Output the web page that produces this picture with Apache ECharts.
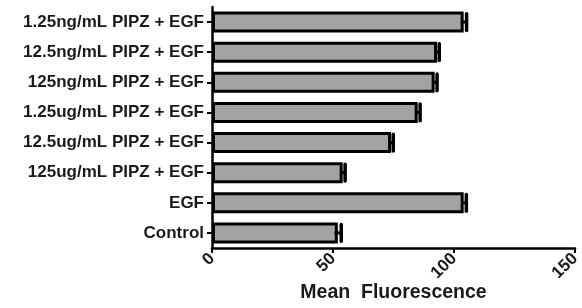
<!DOCTYPE html>
<html>
<head>
<meta charset="utf-8">
<script src="https://cdn.jsdelivr.net/npm/echarts@6/dist/echarts.min.js"></script>
<style>
  html, body { margin: 0; padding: 0; background: #fff; }
  #chart { width: 582px; height: 308px; }
</style>
</head>
<body>
<div id="chart"></div>
<script>
// data
var categories = [
  "1.25ng/mL PIPZ + EGF",
  "12.5ng/mL PIPZ + EGF",
  "125ng/mL PIPZ + EGF",
  "1.25ug/mL PIPZ + EGF",
  "12.5ug/mL PIPZ + EGF",
  "125ug/mL PIPZ + EGF",
  "EGF",
  "Control"
];
var meanValues = [104, 93, 92, 85, 74, 54, 104, 52];
var errValues = [1.2, 0.9, 1.0, 1.0, 0.9, 1.0, 1.1, 1.4];
var xTicks = [0, 50, 100, 150];

var chart = echarts.init(document.getElementById("chart"));

var errData = meanValues.map(function (v, i) {
  return [i, v - errValues[i], v + errValues[i]];
});

var labelFont = {
  fontFamily: "Liberation Sans, Arial, sans-serif",
  fontWeight: "bold",
  fontSize: 17,
  color: "#1a1a1a"
};

var option = {
  animation: false,
  grid: { left: 212, right: 7, top: 7, bottom: 60, outerBoundsMode: "none", containLabel: false },
  xAxis: {
    type: "value",
    min: xTicks[0],
    max: xTicks[xTicks.length - 1],
    interval: 50,
    name: "Mean  Fluorescence",
    nameLocation: "middle",
    nameGap: 35,
    nameMoveOverlap: false,
    nameTextStyle: {
      fontFamily: "Liberation Sans, Arial, sans-serif",
      fontWeight: "bold",
      fontSize: 19.5,
      color: "#1a1a1a"
    },
    axisLine: { show: true, lineStyle: { color: "#000", width: 2.5 } },
    axisTick: { show: true, length: 5, lineStyle: { color: "#000", width: 2 } },
    axisLabel: Object.assign({ rotate: 45, margin: 8 }, labelFont),
    splitLine: { show: false }
  },
  yAxis: {
    type: "category",
    inverse: true,
    data: categories,
    axisLine: { show: true, lineStyle: { color: "#000", width: 2.5 } },
    axisTick: { show: true, length: 5, alignWithLabel: true, lineStyle: { color: "#000", width: 2 } },
    axisLabel: Object.assign({ margin: 8 }, labelFont)
  },
  series: [
    {
      type: "bar",
      data: meanValues,
      barCategoryGap: "30%",
      itemStyle: { color: "#a3a3a3", borderColor: "#000", borderWidth: 3 }
    },
    {
      type: "custom",
      data: errData,
      z: 5,
      renderItem: function (params, api) {
        var lo = api.coord([api.value(1), api.value(0)]);
        var hi = api.coord([api.value(2), api.value(0)]);
        var h = api.size([0, 1])[1] * 0.28;
        return {
          type: "group",
          children: [
            {
              type: "line",
              shape: { x1: lo[0], y1: lo[1], x2: hi[0], y2: hi[1] },
              style: { stroke: "#000", lineWidth: 3 }
            },
            {
              type: "line",
              shape: { x1: hi[0], y1: hi[1] - h, x2: hi[0], y2: hi[1] + h },
              style: { stroke: "#000", lineWidth: 3.5, lineCap: "round" }
            }
          ]
        };
      }
    }
  ]
};

chart.setOption(option);
</script>
</body>
</html>
